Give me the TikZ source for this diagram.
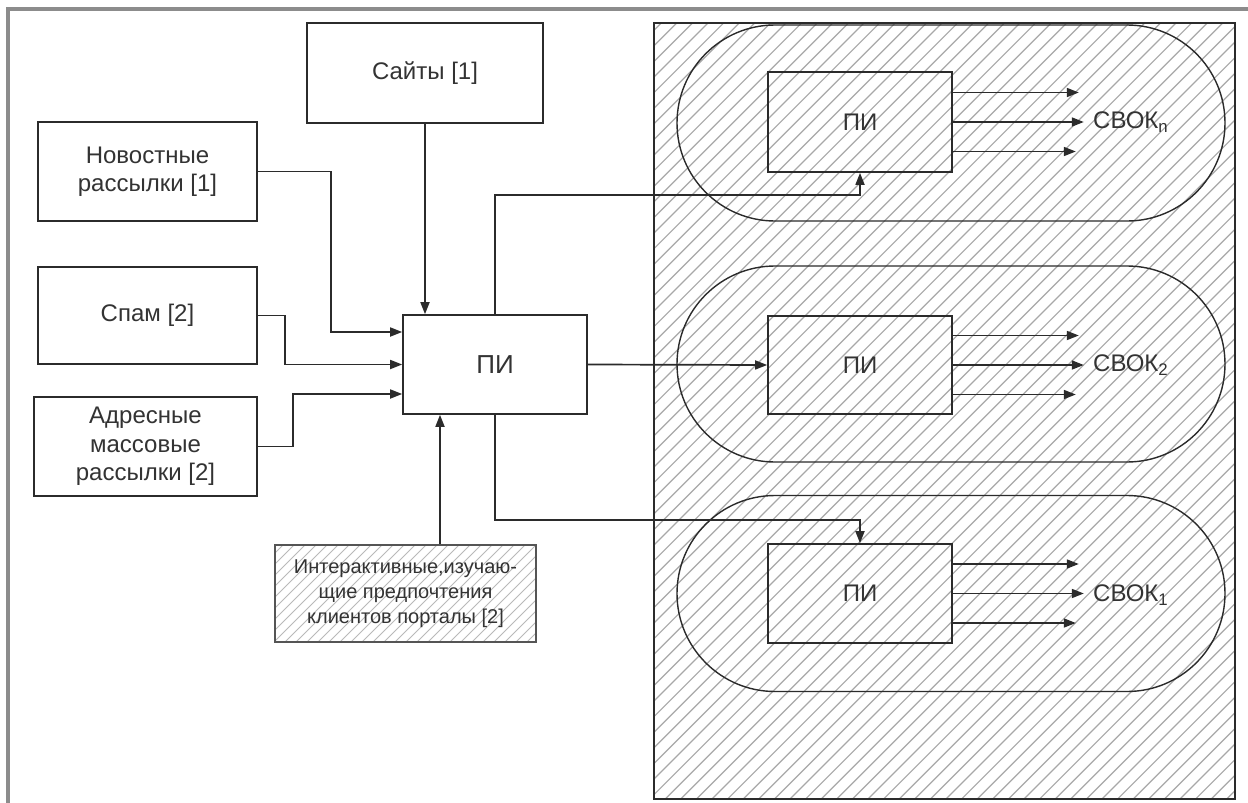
\documentclass[tikz,border=0pt]{standalone}
\usepackage{fontspec}
\setmainfont{Liberation Sans}
\usetikzlibrary{arrows.meta}
\definecolor{linec}{HTML}{2B2B2B}
\definecolor{textc}{HTML}{333333}
\definecolor{framec}{HTML}{8C8C8C}
\definecolor{hatchc}{HTML}{A8A8A8}
\tikzset{
  block/.style={draw=linec, line width=1.7pt, inner sep=0pt, align=center,
    text=textc, font=\fontsize{24}{28.5}\selectfont},
  capsule/.style={draw=linec, line width=1.4pt, rounded corners=98pt,
    minimum width=548pt, minimum height=196pt, inner sep=0pt},
  conn/.style={draw=linec, line width=1.7pt},
  arr/.style={conn, -{Triangle[length=12pt,width=9pt]}},
  hatch/.style={draw=hatchc, line width=1.2pt},
  lbl/.style={text=textc, font=\fontsize{24}{28}\selectfont, inner sep=0pt, anchor=west}
}
\begin{document}
\begin{tikzpicture}[x=1pt,y=-1pt]
\useasboundingbox (0,0) rectangle (1248,803);
\fill[white] (0,0) rectangle (1248,803);

% page frame (left and top edges)
\draw[framec, line width=4pt] (8,803) -- (8,9) -- (1248,9);

% hatched zone on the right
\begin{scope}
  \clip (654,23) rectangle (1235,799);
  \foreach \k in {0,...,92}
    \draw[hatch] ({654-800+\k*15.6},799) -- ++(800,-800);
\end{scope}
\draw[linec, line width=2pt] (654,23) rectangle (1235,799);

% hatched portal box
\begin{scope}
  \clip (275,545) rectangle (536,642);
  \foreach \k in {0,...,40}
    \draw[draw=hatchc!80, line width=1pt] ({275-100+\k*11},642) -- ++(100,-100);
\end{scope}

% source blocks
\node[block, minimum width=236pt, minimum height=100pt] (sites) at (425,73) {Сайты [1]};
\node[block, minimum width=219pt, minimum height=99pt] (news) at (147.5,171.5) {Новостные\\рассылки [1]};
\node[block, minimum width=219pt, minimum height=97pt] (spam) at (147.5,315.5) {Спам [2]};
\node[block, minimum width=223pt, minimum height=99pt] (addr) at (145.5,446.5) {Адресные\\массовые\\рассылки [2]};
\node[block, minimum width=261pt, minimum height=97pt, draw=linec!80,
      font=\fontsize{20}{25}\selectfont] (portal) at (405.5,593.5)
      {Интерактивные,изучаю-\\щие предпочтения\\клиентов порталы [2]};

% central processing block
\node[block, minimum width=184pt, minimum height=99pt,
      font=\fontsize{26}{30}\selectfont] (pi) at (495,364.5) {ПИ};

% capsules with their processing blocks
\node[capsule] (capn) at (951,123) {};
\node[capsule] (cap2) at (951,364) {};
\node[capsule] (cap1) at (951,593.5) {};

\node[block, minimum width=184pt, minimum height=100pt] (pin) at (860,122) {ПИ};
\node[block, minimum width=184pt, minimum height=98pt] (pi2) at (860,365) {ПИ};
\node[block, minimum width=184pt, minimum height=99pt] (pi1) at (860,593.5) {ПИ};

\node[lbl] (svn) at (1093,122) {СВОК\textsubscript{n}};
\node[lbl] (sv2) at (1093,365) {СВОК\textsubscript{2}};
\node[lbl] (sv1) at (1093,595) {СВОК\textsubscript{1}};

% inputs of the central block
\draw[arr] (sites.south) -- (sites.south |- pi.north);
\draw[arr] (news.east) -- ++(73,0) |- ([yshift=32.5pt]pi.west);
\draw[arr] (spam.east) -- ++(27,0) |- (pi.west);
\draw[arr] (addr.east) -- ++(35,0) |- ([yshift=-29.5pt]pi.west);
\draw[arr] ([xshift=34.5pt]portal.north) -- ([xshift=34.5pt]portal.north |- pi.south);

% outputs of the central block
\draw[arr] (pi.north) -- ++(0,-119) -| (pin.south);
\draw[arr] (pi.east) -- (pi2.west);
\draw[arr] (pi.south) -- ++(0,105) -| (pi1.north);

% outputs of the capsule blocks
\foreach \b in {pin,pi2,pi1}{
  \draw[arr] ([yshift=29.5pt]\b.east) -- ++(126,0);
  \draw[arr] (\b.east) -- ++(131,0);
  \draw[arr] ([yshift=-29.5pt]\b.east) -- ++(123,0);
}
\end{tikzpicture}
\end{document}
